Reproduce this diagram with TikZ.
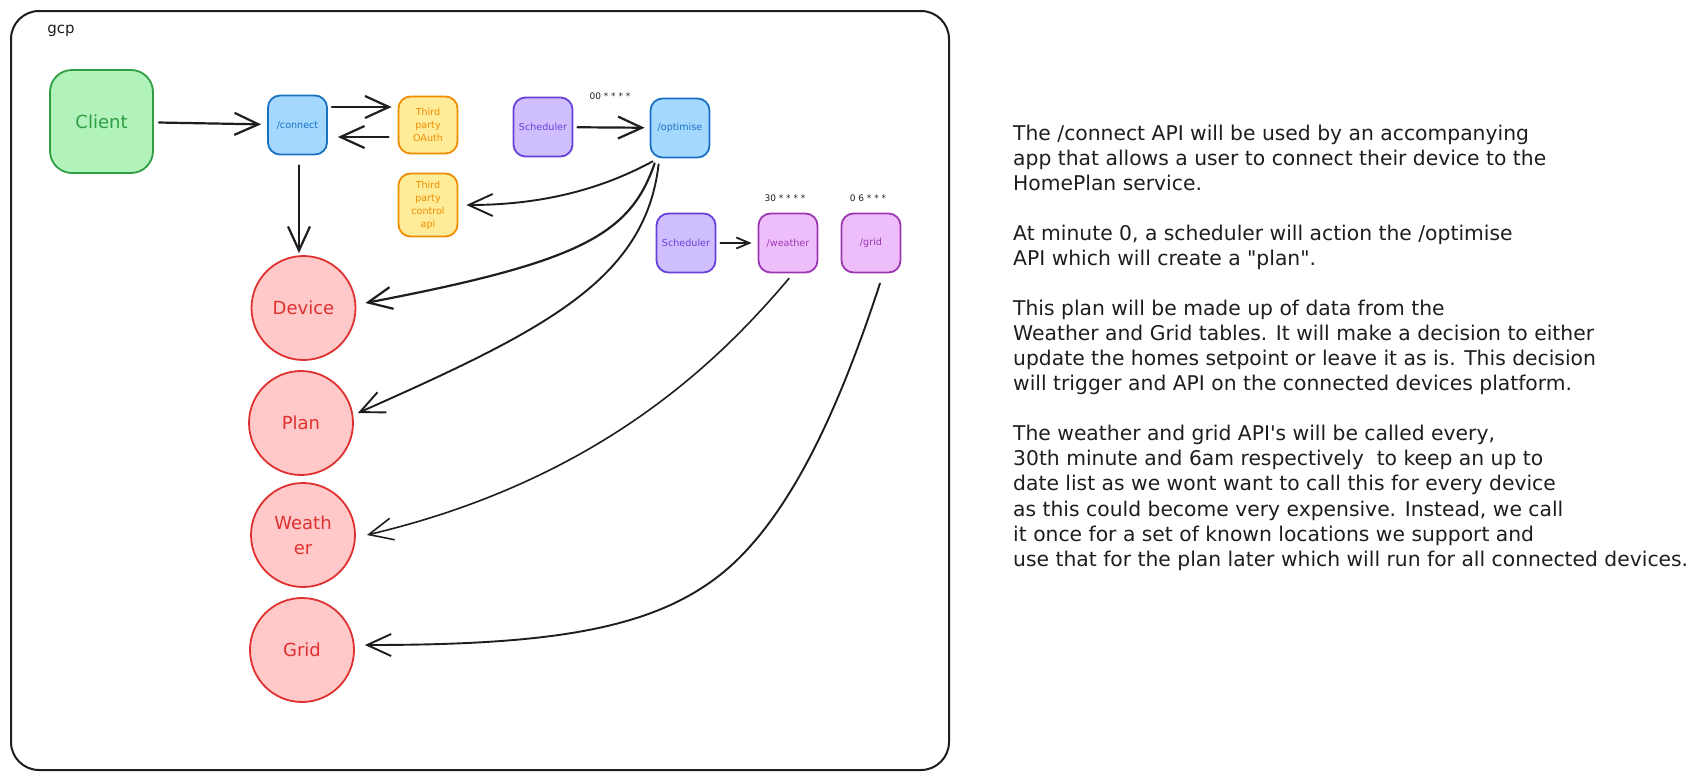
\documentclass[tikz,border=0pt]{standalone}
\usepackage{fontspec}
\setmainfont{DejaVu Sans}
\newfontfamily\notefont{DejaVu Sans}
\usetikzlibrary{arrows.meta}
\definecolor{gS}{HTML}{2F9E44}\definecolor{gF}{HTML}{B2F2BB}
\definecolor{bS}{HTML}{1971C2}\definecolor{bF}{HTML}{A5D8FF}
\definecolor{oS}{HTML}{F08C00}\definecolor{oF}{HTML}{FFEC99}
\definecolor{vS}{HTML}{6741D9}\definecolor{vF}{HTML}{D0BFFF}
\definecolor{pS}{HTML}{9C36B5}\definecolor{pF}{HTML}{EEBEFA}
\definecolor{rS}{HTML}{E03131}\definecolor{rF}{HTML}{FFC9C9}
\definecolor{ink}{HTML}{1E1E1E}
\begin{document}
\begin{tikzpicture}[x=1pt,y=-1pt,
  base/.style={draw, line width=1.8pt, inner sep=0pt, align=center, rounded corners=12pt,
    minimum width=59pt, minimum height=59pt, font=\fontsize{9.6}{13}\selectfont},
  greenbox/.style={base, draw=gS, fill=gF, text=gS, minimum width=103pt, minimum height=103pt,
    rounded corners=22pt, font=\fontsize{18}{22}\selectfont},
  bluebox/.style={base, draw=bS, fill=bF, text=bS},
  orangebox/.style={base, draw=oS, fill=oF, text=oS},
  violetbox/.style={base, draw=vS, fill=vF, text=vS},
  grapebox/.style={base, draw=pS, fill=pF, text=pS},
  redcirc/.style={circle, draw=rS, fill=rF, text=rS, line width=1.8pt, inner sep=0pt,
    minimum size=104pt, align=center, font=\fontsize{18}{25}\selectfont},
  cron/.style={inner sep=0pt, font=\fontsize{9}{11}\selectfont, text=ink},
  arr/.style={draw=ink, line width=2.2pt, line cap=round, -{Straight Barb[length=24pt,width=22pt]}},
  carr/.style={draw=ink, line width=1.9pt, line cap=round, -{Straight Barb[length=24pt,width=22pt]}},
  sarr/.style={draw=ink, line width=1.8pt, line cap=round, -{Straight Barb[length=13pt,width=11pt]}}
]
\useasboundingbox (0,0) rectangle (1696,779);
\fill[white] (0,0) rectangle (1696,779);
% frame
\draw[ink, line width=2pt, rounded corners=28pt] (11,11) rectangle (949,770);
\node[inner sep=0pt, text=ink, font=\fontsize{15}{18}\selectfont] (gcp) at (61,31) {gcp};

% boxes
\node[greenbox] (client) at (101.5,121.5) {Client};
\node[bluebox] (connect) at (297.5,125) {/connect};
\node[orangebox, minimum height=57pt] (oauth) at (428,125) {Third\\party\\OAuth};
\node[orangebox, minimum height=63pt] (control) at (428,205) {Third\\party\\control\\api};
\node[violetbox] (sched1) at (543,127) {Scheduler};
\node[bluebox] (optimise) at (680,128) {/optimise};
\node[violetbox] (sched2) at (686,243) {Scheduler};
\node[grapebox] (weather) at (788,243) {/weather};
\node[grapebox] (grid) at (871,243) {/grid};

\node[cron] (c1) at (610,96) {00 * * * *};
\node[cron] (c2) at (785,198) {30 * * * *};
\node[cron] (c3) at (868,198) {0 6 * * *};

% circles
\node[redcirc] (device) at (303.5,308) {Device};
\node[redcirc] (plan) at (301,423) {Plan};
\node[redcirc] (wtab) at (303,535) {Weath\\er};
\node[redcirc] (gtab) at (302,650) {Grid};

% straight connectors
\draw[arr, shorten <=5pt, shorten >=6pt] (client) -- (connect);
\draw[arr, shorten <=4pt, shorten >=6pt] ([yshift=18pt]connect.east) -- ([yshift=18pt]oauth.west);
\draw[arr, shorten <=9pt, shorten >=10pt] ([yshift=-12pt]oauth.west) -- ([yshift=-12pt]connect.east);
\draw[arr, shorten <=10pt, shorten >=2pt] ([xshift=1.5pt]connect.south) -- ([xshift=1.5pt]connect.south |- device.north);
\draw[arr, shorten <=4pt, shorten >=5pt] (sched1) -- (optimise);
\draw[sarr, shorten <=4pt, shorten >=6pt] (sched2) -- (weather);

% curved connectors
\draw[carr] ([shift={(3,3)}]optimise.south west) .. controls (600,190) and (540,205) .. ([xshift=8pt]control.east);
\draw[arr] ([shift={(5,5)}]optimise.south west) .. controls (630,235) and (580,262) .. ([shift={(9,-5)}]device.east);
\draw[carr] ([shift={(9,6)}]optimise.south west) .. controls (645,280) and (545,330) .. ([shift={(4,-10)}]plan.east);
\draw[carr, line width=1.6pt] ([shift={(1,5)}]weather.south) .. controls (720,360) and (600,480) .. ([xshift=11pt]wtab.east);
\draw[carr] ([shift={(9,10)}]grid.south) .. controls (845,390) and (800,500) .. (735,562)
  .. controls (665,628) and (560,645) .. ([shift={(10,-5)}]gtab.east);

% notes
\node[anchor=north west, inner sep=0pt, align=left, text=ink,
  font=\notefont\fontsize{20.3}{25.06}\selectfont] (notes) at (1013,124.5) {%
The /connect API will be used by an accompanying\\
app that allows a user to connect their device to the\\
HomePlan service.\\[25.06pt]
At minute 0, a scheduler will action the /optimise\\
API which will create a "plan".\\[25.06pt]
This plan will be made up of data from the\\
Weather and Grid tables. It will make a decision to either\\
update the homes setpoint or leave it as is. This decision\\
will trigger and API on the connected devices platform.\\[25.06pt]
The weather and grid API's will be called every,\\
30th minute and 6am respectively\ \ to keep an up to\\
date list as we wont want to call this for every device\\
as this could become very expensive. Instead, we call\\
it once for a set of known locations we support and\\
use that for the plan later which will run for all connected devices.};
\end{tikzpicture}
\end{document}
